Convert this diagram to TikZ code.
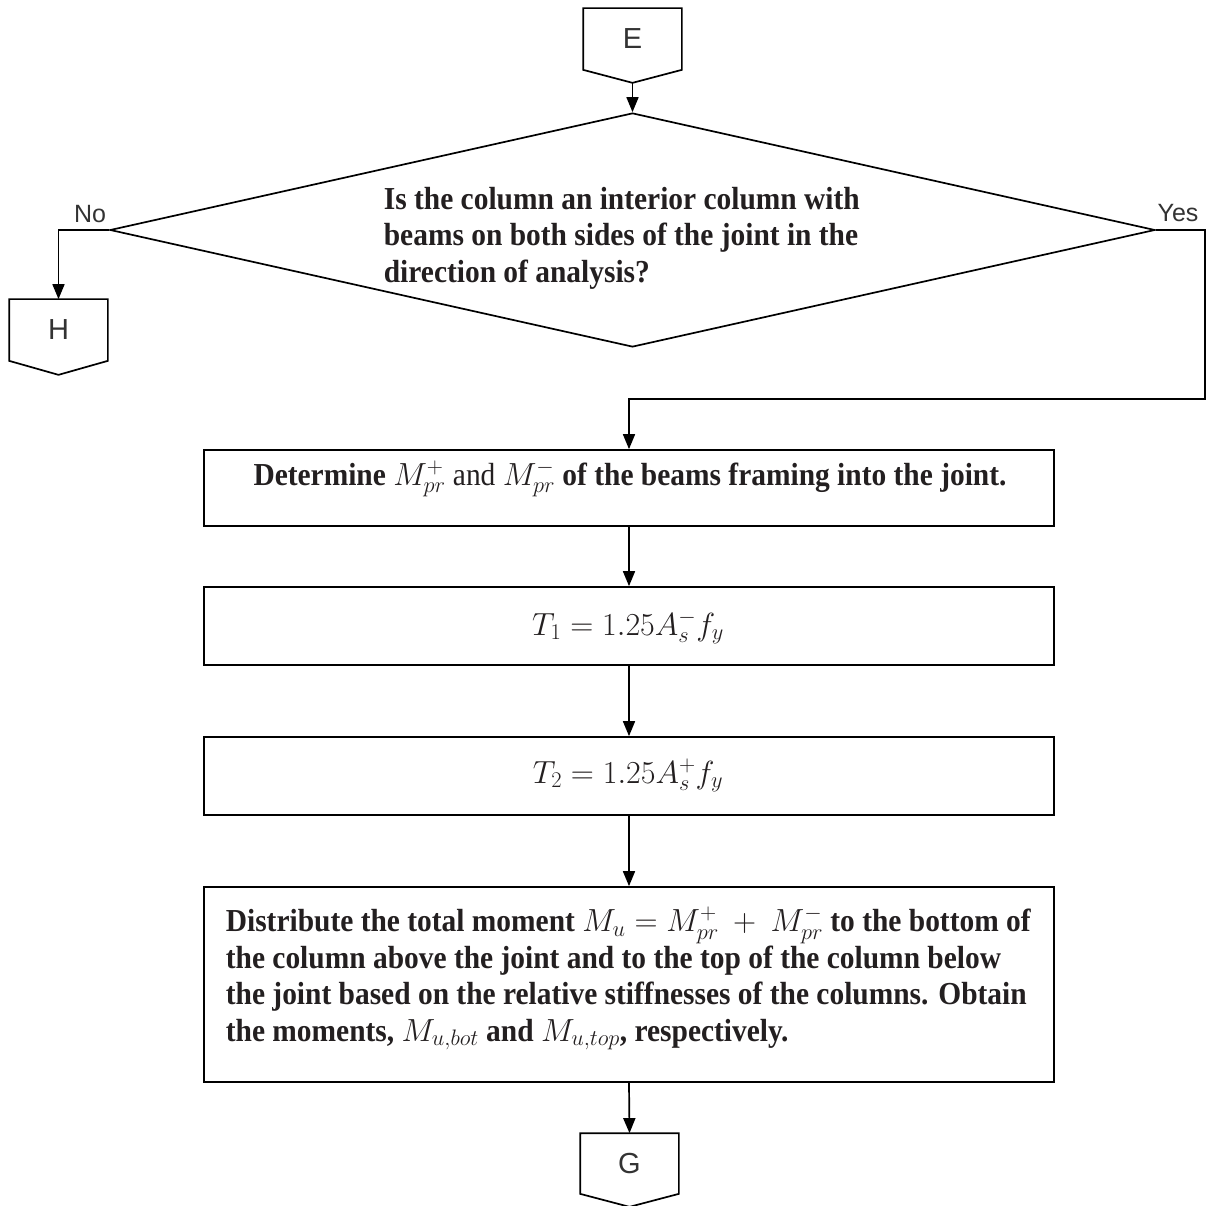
\RequirePackage{fix-cm}
\documentclass[tikz,border=0pt]{standalone}
\usepackage{fontspec}
\setmainfont{Liberation Serif}
\newfontfamily\bser{Liberation Serif}[FakeStretch=0.92]
\newfontfamily\lsans{Liberation Sans}
\usetikzlibrary{shapes.geometric,arrows.meta,calc}
\definecolor{labelgray}{HTML}{333333}
\definecolor{txtblack}{HTML}{231F20}
\begin{document}
\begin{tikzpicture}[x=1pt,y=-1pt, line width=1.7pt,
  conn/.style={-{Triangle[length=15pt,width=12pt]}},
  procbox/.style={draw, minimum width=850pt, inner sep=0pt},
  btxt/.style={font=\bser\bfseries\fontsize{32}{36.5}\selectfont, text=txtblack, inner sep=0pt, align=left},
  eqtxt/.style={font=\fontsize{32}{36}\selectfont, text=txtblack, inner sep=0pt},
  lbl/.style={font=\lsans\fontsize{25}{30}\selectfont, text=labelgray, inner sep=0pt},
  offpage/.style={minimum width=97pt, minimum height=60pt, inner sep=0pt, font=\lsans\fontsize{29}{34}\selectfont, text=labelgray},
]
\useasboundingbox (0,0) rectangle (1211,1206);

% Off-page connector E
\node[offpage] (E) at (632.5,39) {E};
\coordinate (Etip) at ($(E.south)+(0,13)$);
\draw (E.north west) -- (E.north east) -- (E.south east) -- (Etip) -- (E.south west) -- cycle;

% Decision
\node[diamond, draw, minimum width=1045pt, minimum height=234pt, inner sep=0pt] (dia) at (632.5,230) {};
\node[btxt, anchor=north west] (diatxt) at (383,186) {Is the column an interior column with\\beams on both sides of the joint in the\\direction of analysis?};

% H connector
\node[offpage] (H) at (58.5,330) {H};
\coordinate (Htip) at ($(H.south)+(0,14)$);
\draw (H.north west) -- (H.north east) -- (H.south east) -- (Htip) -- (H.south west) -- cycle;

% Boxes
\node[procbox, minimum height=76pt] (b1) at (629,488) {};
\node[btxt, anchor=base] (t1) at (630,485) {Determine $M_{pr}^{+}$ \textmd{and} $M_{pr}^{-}$ of the beams framing into the joint.};

\node[procbox, minimum height=78pt] (b2) at (629,626) {};
\node[eqtxt, anchor=base] (t2) at (628,635) {$T_1 = 1.25A_s^{-} f_y$};

\node[procbox, minimum height=78pt] (b3) at (629,776) {};
\node[eqtxt, anchor=base] (t3) at (628,783) {$T_2 = 1.25A_s^{+} f_y$};

\node[procbox, minimum height=195pt] (b4) at (629,984.5) {};
\node[btxt, anchor=north west] (t4) at (225,906) {Distribute the total moment $M_u = M_{pr}^{+}\ +\ M_{pr}^{-}$ to the bottom of\\the column above the joint and to the top of the column below\\the joint based on the relative stiffnesses of the columns. Obtain\\the moments, $M_{u,bot}$ and $M_{u,top}$, respectively.};

% G connector
\node[offpage, minimum height=59pt] (G) at (629.5,1163.5) {G};
\coordinate (Gtip) at ($(G.south)+(0,13)$);
\draw (G.north west) -- (G.north east) -- (G.south east) -- (Gtip) -- (G.south west) -- cycle;

% Labels
\node[lbl, anchor=base] (no) at (90,223) {No};
\node[lbl, anchor=base] (yes) at (1178,222) {Yes};

% Connectors
\coordinate (yr) at (1205,230);
\coordinate (yb) at (1205,399);
\draw[conn] (Etip) -- (dia.north);
\draw[conn] (dia.west) -| (H.north);
\draw[conn] (dia.east) -- (yr) -- (yb) -| (b1.north);
\draw[conn] (b1.south) -- (b2.north);
\draw[conn] (b2.south) -- (b3.north);
\draw[conn] (b3.south) -- (b4.north);
\draw[conn] (b4.south) -- (G.north);
\end{tikzpicture}
\end{document}
